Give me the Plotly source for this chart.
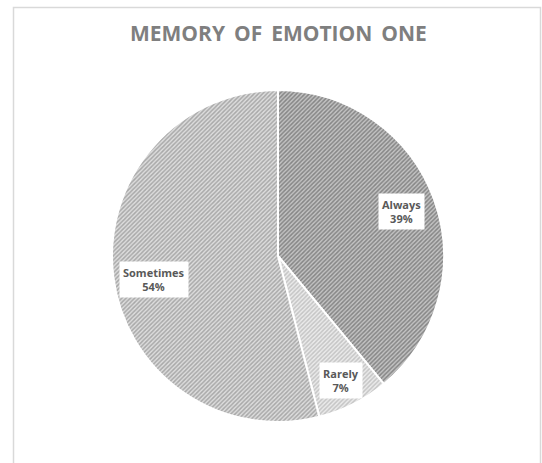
import math
import plotly.graph_objects as go

# Survey answers and their shares (percent)
categories = ["Always", "Rarely", "Sometimes"]
shares = [39, 7, 54]
title_text = "MEMORY OF EMOTION ONE"

W, H = 542, 463
CX, CY, R = 278, 256, 166  # pie centre and radius in pixels

fills = {
    "Always": ("#858585", "#c4c4c4"),
    "Rarely": ("#c4c4c4", "#ececec"),
    "Sometimes": ("#a8a8a8", "#dedede"),
}
# how far out (fraction of radius) each label box sits
label_depth = {"Always": 0.79, "Rarely": 0.84, "Sometimes": 0.75}

fig = go.Figure(
    go.Pie(
        labels=categories,
        values=shares,
        sort=False,
        direction="clockwise",
        rotation=0,
        textinfo="none",
        hoverinfo="label+percent",
        showlegend=False,
        marker=dict(
            colors=[fills[c][1] for c in categories],
            line=dict(color="white", width=2),
            pattern=dict(
                shape="/",
                fgcolor=[fills[c][0] for c in categories],
                bgcolor=[fills[c][1] for c in categories],
                size=3,
                solidity=0.5,
            ),
        ),
        domain=dict(x=[(CX - R) / W, (CX + R) / W], y=[1 - (CY + R) / H, 1 - (CY - R) / H]),
    )
)

# label boxes placed at each slice's mid-angle
total = sum(shares)
cum = 0
annotations = []
for cat, v in zip(categories, shares):
    mid = (cum + v / 2) / total * 2 * math.pi
    cum += v
    d = R * label_depth[cat]
    px = CX + d * math.sin(mid)
    py = CY - d * math.cos(mid) + (8 if cat == "Sometimes" else 0)
    annotations.append(
        dict(
            x=px / W, y=1 - py / H, xref="paper", yref="paper",
            xanchor="center", yanchor="middle",
            text=f"<b>{cat}<br>{round(v / total * 100)}%</b>",
            showarrow=False,
            font=dict(family="Open Sans, Lato, sans-serif", size=11, color="#595959"),
            bgcolor="white",
            borderpad=3,
            align="center",
        )
    )

# slightly wider word gaps in the title
spaced_title = title_text.replace(" ", " \u2009")
annotations.append(
    dict(
        x=CX / W, y=1 - 33 / H, xref="paper", yref="paper",
        xanchor="center", yanchor="middle",
        text=f"<b>{spaced_title}</b>",
        showarrow=False,
        font=dict(family="Open Sans, Lato, sans-serif", size=21, color="#7f7f7f"),
    )
)

fig.update_layout(
    width=W, height=H,
    margin=dict(l=0, r=0, t=0, b=0),
    paper_bgcolor="white",
    plot_bgcolor="white",
    annotations=annotations,
    shapes=[
        dict(
            type="rect", xref="paper", yref="paper",
            x0=13.5 / W, x1=540.5 / W, y0=-0.05, y1=1 - 7.5 / H,
            line=dict(color="#d9d9d9", width=1.5),
        )
    ],
)

fig.write_html("out.html")
